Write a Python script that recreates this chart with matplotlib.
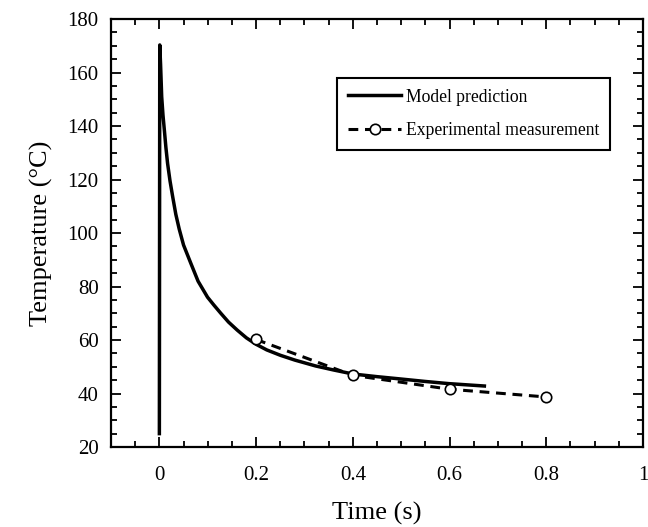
import matplotlib
matplotlib.use("Agg")
import matplotlib.pyplot as plt
from matplotlib.ticker import MultipleLocator

# model prediction
model_t = [0.0, 0.0008, 0.0025, 0.0048, 0.0075, 0.0103, 0.0135, 0.017, 0.022,
           0.0275, 0.034, 0.041, 0.05, 0.065, 0.08, 0.0996, 0.113, 0.127,
           0.143, 0.161, 0.18, 0.2, 0.222, 0.25, 0.28, 0.323, 0.36, 0.4,
           0.45, 0.495, 0.55, 0.598, 0.672]
model_T = [25.0, 170.3, 163.0, 151.0, 144.0, 138.5, 132.0, 126.0, 119.5,
           113.6, 107.0, 101.5, 95.5, 88.7, 82.0, 76.0, 73.0, 70.0,
           66.7, 63.7, 60.8, 58.4, 56.3, 54.3, 52.5, 50.3, 48.8, 47.3,
           46.3, 45.5, 44.5, 43.7, 42.8]

# experimental points
exp_t = [0.2, 0.4, 0.6, 0.8]
exp_T = [60.2, 46.8, 41.6, 38.7]

SERIF = ["Liberation Serif", "DejaVu Serif"]
plt.rcParams["font.family"] = SERIF

fig = plt.figure(figsize=(6.48, 5.27), dpi=100)
ax = fig.add_axes([0.1713, 0.1518, 0.821, 0.8121])

ax.plot(model_t, model_T, color="black", lw=2.5, solid_joinstyle="round",
        label="Model prediction", zorder=3)
ax.plot(exp_t, exp_T, color="black", lw=2.2, ls=(0, (3.2, 2.2)),
        marker="o", ms=7.5, mfc="white", mec="black", mew=1.2,
        label="Experimental measurement", zorder=4)

ax.set_xlim(-0.1, 1.0)
ax.set_ylim(20, 180)
ax.xaxis.set_major_locator(MultipleLocator(0.2))
ax.xaxis.set_minor_locator(MultipleLocator(0.05))
ax.yaxis.set_major_locator(MultipleLocator(20))
ax.yaxis.set_minor_locator(MultipleLocator(5))
ax.set_xticks([0, 0.2, 0.4, 0.6, 0.8, 1.0])
ax.set_xticklabels(["0", "0.2", "0.4", "0.6", "0.8", "1"])

ax.tick_params(which="both", direction="in", top=True, right=True,
               width=1.3, labelsize=15)
ax.tick_params(axis="x", pad=14)
ax.tick_params(axis="y", pad=9)
ax.tick_params(which="major", length=7)
ax.tick_params(which="minor", length=4)
for s in ax.spines.values():
    s.set_linewidth(1.6)

ax.set_xlabel("Time (s)", fontsize=19, labelpad=12)
ax.set_ylabel("Temperature (\u00b0C)", fontsize=19, labelpad=10)

leg = ax.legend(loc="upper left", bbox_to_anchor=(0.425, 0.862),
                fancybox=False, edgecolor="black", framealpha=1,
                fontsize=12.7, handlelength=3.05, handletextpad=0.25,
                borderpad=0.6, labelspacing=0.95, borderaxespad=0)
leg.get_frame().set_linewidth(1.5)

fig.savefig("out.png", dpi=100)
